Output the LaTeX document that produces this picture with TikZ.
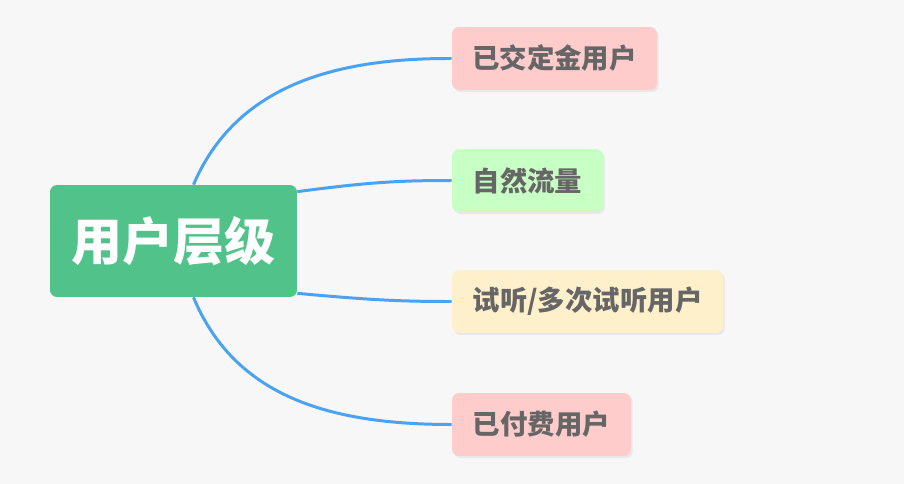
\documentclass[tikz,border=0pt]{standalone}
\usepackage{fontspec}
\setmainfont{Noto Sans CJK SC}
\usepackage{tikz}
\usetikzlibrary{positioning,shadows}
\definecolor{BgGray}{HTML}{F7F7F7}
\definecolor{RootGreen}{HTML}{52C28B}
\definecolor{SoftRed}{HTML}{FFCCCC}
\definecolor{SoftGreen}{HTML}{C8FFC4}
\definecolor{SoftYellow}{HTML}{FFF0CC}
\definecolor{TextGray}{HTML}{666666}
\definecolor{LinkBlue}{HTML}{4AA3F2}

\begin{document}
\begin{tikzpicture}[
    x=0.02cm, y=-0.02cm,
    root/.style={rectangle, rounded corners=4pt, fill=RootGreen, text=white, font=\fontsize{29}{33}\selectfont\bfseries, minimum width=4.94cm, minimum height=2.24cm, inner sep=0pt},
    leaf/.style={rectangle, rounded corners=4pt, text=TextGray, font=\fontsize{15.6}{18}\selectfont\bfseries, minimum height=1.26cm, inner sep=0pt, drop shadow={opacity=0.12, shadow xshift=1pt, shadow yshift=-1.2pt}},
    link/.style={draw=LinkBlue, line width=1.7pt}
]
\fill[BgGray] (0,0) rectangle (904,484);
\useasboundingbox (0,0) rectangle (904,484);

\node[root] (root) at (173.5,241) {用户层级};

\node[leaf, fill=SoftRed, minimum width=4.1cm] (deposit) at (554.5,58.5) {已交定金用户};
\node[leaf, fill=SoftGreen, minimum width=3.02cm] (natural) at (527.5,180.5) {自然流量};
\node[leaf, fill=SoftYellow, minimum width=5.42cm] (trial) at (587.5,301.5) {试听/多次试听用户};
\node[leaf, fill=SoftRed, minimum width=3.58cm] (paid) at (541.5,424.5) {已付费用户};

% branches
\draw[link] ([xshift=0.4cm]root.north) .. controls (235,88) and (330,58) .. (deposit.west);
\draw[link] ([yshift=-0.14cm]root.north east) .. controls (370,182) and (400,180.5) .. (natural.west);
\draw[link] ([yshift=0.08cm]root.south east) .. controls (370,300) and (400,301.5) .. (trial.west);
\draw[link] ([xshift=0.4cm]root.south) .. controls (235,397) and (330,424.5) .. (paid.west);
\end{tikzpicture}
\end{document}
